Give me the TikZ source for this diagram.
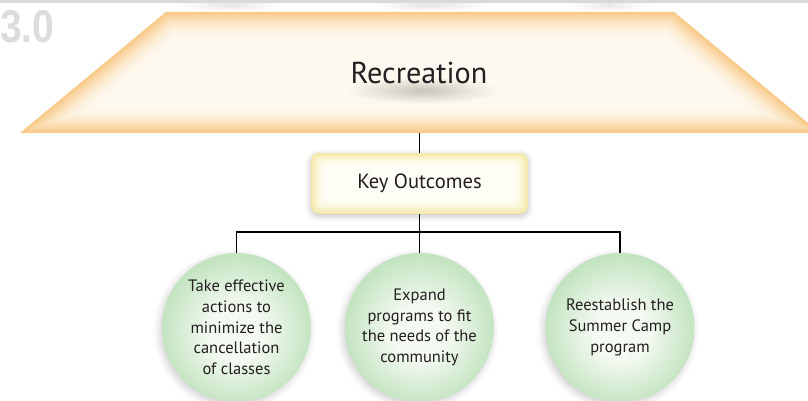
\documentclass[tikz,border=0pt]{standalone}
\usepackage{fontspec}
\setmainfont{PT Sans}
\newfontfamily\numfont{Liberation Sans}
\usetikzlibrary{shadows.blur}
\definecolor{trapedge}{HTML}{F8C986}
\definecolor{trapin}{HTML}{FEF9F0}
\definecolor{boxedge}{HTML}{F3E8A6}
\definecolor{boxin}{HTML}{FFFEF6}
\definecolor{circedge}{HTML}{C4E4C1}
\definecolor{circin}{HTML}{F4FAF2}
\definecolor{numgray}{HTML}{DCDCDC}
\definecolor{bargray}{HTML}{D9D9D9}
\definecolor{txtcol}{HTML}{231F20}
\pgfdeclareradialshading{circsh}{\pgfpoint{0bp}{-2bp}}{color(0bp)=(circin); color(9bp)=(circin); color(25bp)=(circedge); color(50bp)=(circedge)}
\begin{document}
\begin{tikzpicture}[x=1pt,y=-1pt,
  conn/.style={line width=1.4pt, draw=black},
  circ/.style={circle, minimum size=149pt, inner sep=0pt, shading=circsh,
    align=center, text=txtcol, font=\fontsize{16.5}{20.7}\selectfont,
    blur shadow={shadow xshift=-2pt, shadow yshift=-3pt, shadow blur radius=7pt, shadow opacity=20}},
  keybox/.style={rectangle, rounded corners=8pt, minimum width=217pt, minimum height=61pt,
    inner sep=0pt, fill=boxedge, text=txtcol, font=\fontsize{20.6}{22}\selectfont,
    blur shadow={shadow xshift=0pt, shadow yshift=-2pt, shadow blur radius=6pt, shadow opacity=25},
    path picture={
      \foreach \i in {1,...,16}{
        \pgfmathsetmacro\p{100*(1-\i/16)^2}
        \pgfmathsetmacro\r{max(8-0.4*\i,1)}
        \fill[boxedge!\p!boxin, rounded corners=\r pt]
          ([xshift=\i pt,yshift=-\i pt]path picture bounding box.north west) rectangle
          ([xshift=-\i pt,yshift=\i pt]path picture bounding box.south east);
      }
    }}]
\useasboundingbox (0,0) rectangle (808,401);
% top bar and faint smudges
\foreach \cx/\w in {230/55, 430/60, 610/45}{
  \foreach \k in {1,...,8}{
    \fill[black, opacity=0.012] (\cx,5) ellipse ({\w-6*\k} and {7-0.7*\k});
  }
}
\fill[bargray] (0,0) rectangle (808,3);
% section number
\node[anchor=base west, inner sep=0pt, text=numgray] (num) at (0,43)
  {\scalebox{0.85}[1]{\numfont\bfseries\fontsize{46}{46}\selectfont 3.0}};
% trapezoid with inner glow
\foreach \i in {0,...,30}{
  \pgfmathsetmacro\p{100*(1-\i/30)^2}
  \fill[trapedge!\p!trapin] (166+0.36*\i,12+\i) -- (674-0.36*\i,12+\i)
     -- (820-2.774*\i,133-\i) -- (20+2.774*\i,133-\i) -- cycle;
}
\foreach \k in {1,...,12}{
  \fill[black, opacity=0.016] (423,91) ellipse ({80-6*\k} and {14-1.0*\k});
}
\node[text=txtcol, font=\fontsize{30.2}{32}\selectfont, inner sep=0pt] (rec) at (419,73) {Recreation};
\coordinate (trapbot) at (419,133);
% key outcomes
\node[keybox] (ko) at (419.5,183.5) {Key Outcomes};
% circles
\node[circ] (c1) at (236.5,327.5) {Take effective\\actions to\\minimize the\\cancellation\\of classes};
\node[circ] (c2) at (419.5,327.5) {Expand\\programs to fit\\the needs of the\\community};
\node[circ] (c3) at (620,327.5) {Reestablish the\\Summer Camp\\program};
% connectors
\coordinate (hub) at (419.5,232);
\draw[conn] (trapbot -| ko.north) -- (ko.north);
\draw[conn] (ko.south) -- (c2.north);
\draw[conn] (c1.north) -- (c1.north |- hub) -- (c3.north |- hub) -- (c3.north);
\end{tikzpicture}
\end{document}
